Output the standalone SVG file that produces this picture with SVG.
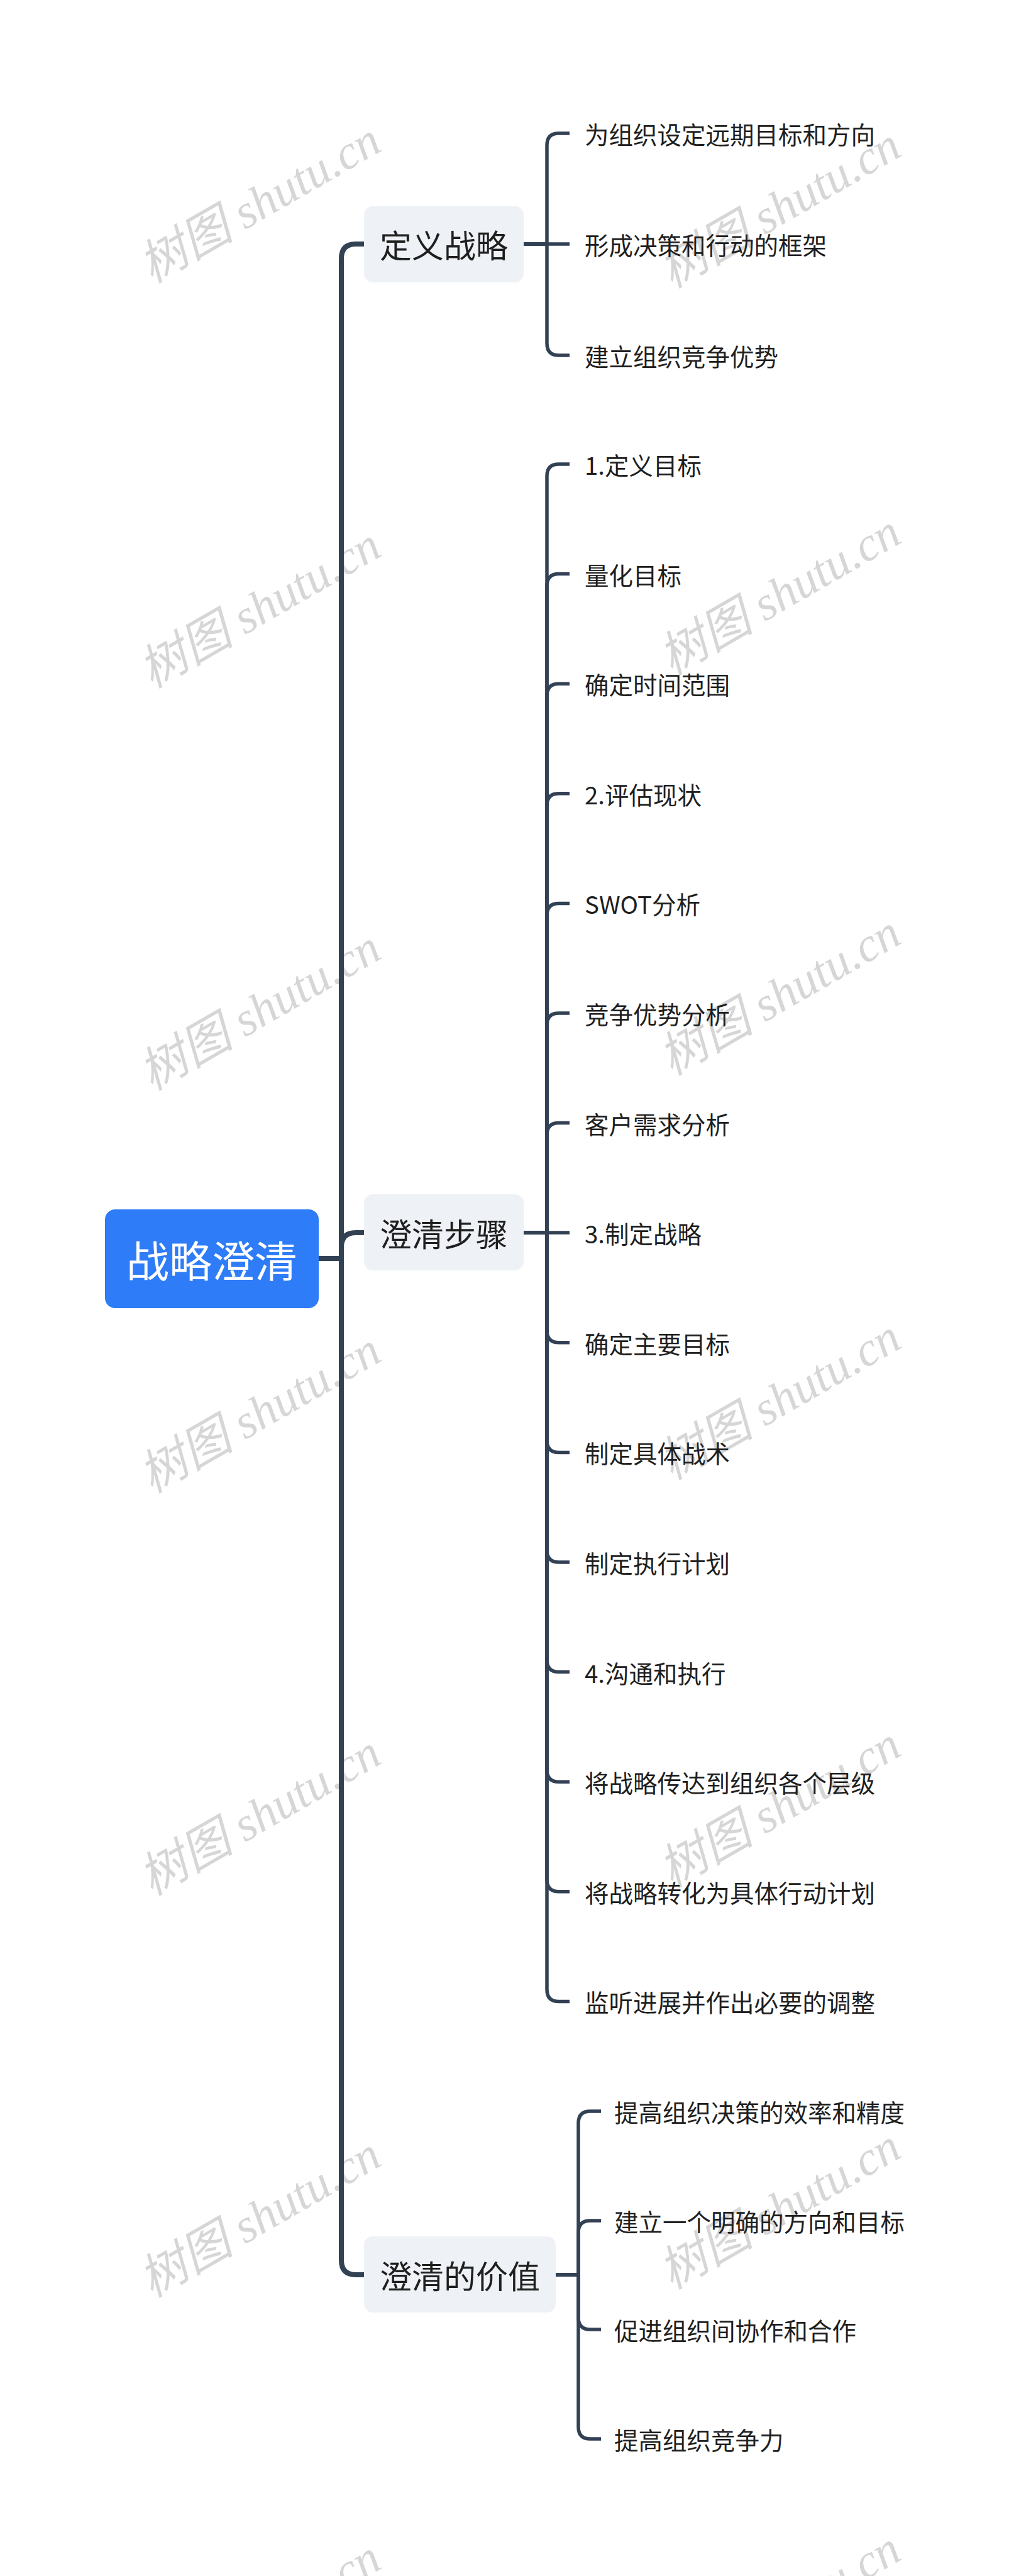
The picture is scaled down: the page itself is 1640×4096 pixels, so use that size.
<svg xmlns="http://www.w3.org/2000/svg" width="1640" height="4096" viewBox="0 0 1640 4096">
<style>
.wm{font-family:"Liberation Serif","Noto Sans CJK SC",serif;font-style:italic;font-size:76px;fill:#d6d6d6;text-anchor:middle;dominant-baseline:central}
.main{fill:none;stroke:#334155;stroke-width:8;stroke-linecap:butt;stroke-linejoin:round}
.sub{fill:none;stroke:#334155;stroke-width:5.5;stroke-linecap:butt;stroke-linejoin:round}
.box{fill:#eef1f5}
.root{fill:#2e7cf7}
.t{font-family:"Noto Sans CJK SC","Noto Sans",sans-serif;fill:#1f1f1f;dominant-baseline:central}
.tm{font-size:51px;text-anchor:middle}
.tl{font-size:38.5px}
.tr{font-family:"Noto Sans CJK SC","Noto Sans",sans-serif;font-size:68px;fill:#ffffff;text-anchor:middle;dominant-baseline:central}
</style>
<rect x="0" y="0" width="1640" height="4096" fill="#ffffff"/>
<g id="watermarks">
<text class="wm" transform="translate(413,322) rotate(-30)">树图 shutu.cn</text>
<text class="wm" transform="translate(1240,330) rotate(-30)">树图 shutu.cn</text>
<text class="wm" transform="translate(413,966) rotate(-30)">树图 shutu.cn</text>
<text class="wm" transform="translate(1240,945) rotate(-30)">树图 shutu.cn</text>
<text class="wm" transform="translate(413,1606) rotate(-30)">树图 shutu.cn</text>
<text class="wm" transform="translate(1240,1582) rotate(-30)">树图 shutu.cn</text>
<text class="wm" transform="translate(413,2246) rotate(-30)">树图 shutu.cn</text>
<text class="wm" transform="translate(1240,2225) rotate(-30)">树图 shutu.cn</text>
<text class="wm" transform="translate(413,2886) rotate(-30)">树图 shutu.cn</text>
<text class="wm" transform="translate(1240,2873) rotate(-30)">树图 shutu.cn</text>
<text class="wm" transform="translate(413,3525) rotate(-30)">树图 shutu.cn</text>
<text class="wm" transform="translate(1240,3512) rotate(-30)">树图 shutu.cn</text>
<text class="wm" transform="translate(413,4166) rotate(-30)">树图 shutu.cn</text>
<text class="wm" transform="translate(1240,4152) rotate(-30)">树图 shutu.cn</text>
</g>
<g id="connectors">
<path class="main" d="M507,2001 H543 V411 Q543,388 566,388 H579"/>
<path class="main" d="M507,2001 H543 V1983 Q543,1960 566,1960 H579"/>
<path class="main" d="M507,2001 H543 V3594 Q543,3617 566,3617 H579"/>
<path class="sub" d="M833,388 H870 V231 Q870,212 889,212 H906"/>
<path class="sub" d="M833,388 H906"/>
<path class="sub" d="M833,388 H870 V546 Q870,565 889,565 H906"/>
<path class="sub" d="M833,1960 H870 V757 Q870,738 889,738 H906"/>
<path class="sub" d="M833,1960 H870 V931.6 Q870,912.6 889,912.6 H906"/>
<path class="sub" d="M833,1960 H870 V1106.2 Q870,1087.2 889,1087.2 H906"/>
<path class="sub" d="M833,1960 H870 V1280.8 Q870,1261.8 889,1261.8 H906"/>
<path class="sub" d="M833,1960 H870 V1455.4 Q870,1436.4 889,1436.4 H906"/>
<path class="sub" d="M833,1960 H870 V1630 Q870,1611 889,1611 H906"/>
<path class="sub" d="M833,1960 H870 V1804.6 Q870,1785.6 889,1785.6 H906"/>
<path class="sub" d="M833,1960 H906"/>
<path class="sub" d="M833,1960 H870 V2115.8 Q870,2134.8 889,2134.8 H906"/>
<path class="sub" d="M833,1960 H870 V2290.4 Q870,2309.4 889,2309.4 H906"/>
<path class="sub" d="M833,1960 H870 V2465 Q870,2484 889,2484 H906"/>
<path class="sub" d="M833,1960 H870 V2639.6 Q870,2658.6 889,2658.6 H906"/>
<path class="sub" d="M833,1960 H870 V2814.2 Q870,2833.2 889,2833.2 H906"/>
<path class="sub" d="M833,1960 H870 V2988.8 Q870,3007.8 889,3007.8 H906"/>
<path class="sub" d="M833,1960 H870 V3163.4 Q870,3182.4 889,3182.4 H906"/>
<path class="sub" d="M884,3617 H920 V3376 Q920,3357 939,3357 H956"/>
<path class="sub" d="M884,3617 H920 V3550 Q920,3531 939,3531 H956"/>
<path class="sub" d="M884,3617 H920 V3685 Q920,3704 939,3704 H956"/>
<path class="sub" d="M884,3617 H920 V3859 Q920,3878 939,3878 H956"/>
</g>
<g id="root">
<rect class="root" x="167" y="1923" width="340" height="157" rx="16"/>
<text class="tr" x="337" y="2001">战略澄清</text>
</g>
<g id="n1">
<rect class="box" x="579" y="328" width="254" height="121" rx="14"/>
<text class="t tm" x="706" y="388">定义战略</text>
</g>
<g id="n2">
<rect class="box" x="579" y="1899" width="254" height="121" rx="14"/>
<text class="t tm" x="706" y="1960">澄清步骤</text>
</g>
<g id="n3">
<rect class="box" x="579" y="3556" width="305" height="121" rx="14"/>
<text class="t tm" x="731.5" y="3617">澄清的价值</text>
</g>
<g id="n1-leaves">
<text class="t tl" x="930" y="212">为组织设定远期目标和方向</text>
<text class="t tl" x="930" y="388">形成决策和行动的框架</text>
<text class="t tl" x="930" y="565">建立组织竞争优势</text>
</g>
<g id="n2-leaves">
<text class="t tl" x="930" y="738">1.定义目标</text>
<text class="t tl" x="930" y="912.6">量化目标</text>
<text class="t tl" x="930" y="1087.2">确定时间范围</text>
<text class="t tl" x="930" y="1261.8">2.评估现状</text>
<text class="t tl" x="930" y="1436.4">SWOT分析</text>
<text class="t tl" x="930" y="1611">竞争优势分析</text>
<text class="t tl" x="930" y="1785.6">客户需求分析</text>
<text class="t tl" x="930" y="1960">3.制定战略</text>
<text class="t tl" x="930" y="2134.8">确定主要目标</text>
<text class="t tl" x="930" y="2309.4">制定具体战术</text>
<text class="t tl" x="930" y="2484">制定执行计划</text>
<text class="t tl" x="930" y="2658.6">4.沟通和执行</text>
<text class="t tl" x="930" y="2833.2">将战略传达到组织各个层级</text>
<text class="t tl" x="930" y="3007.8">将战略转化为具体行动计划</text>
<text class="t tl" x="930" y="3182.4">监听进展并作出必要的调整</text>
</g>
<g id="n3-leaves">
<text class="t tl" x="977" y="3357">提高组织决策的效率和精度</text>
<text class="t tl" x="977" y="3531">建立一个明确的方向和目标</text>
<text class="t tl" x="977" y="3704">促进组织间协作和合作</text>
<text class="t tl" x="977" y="3878">提高组织竞争力</text>
</g>
</svg>
